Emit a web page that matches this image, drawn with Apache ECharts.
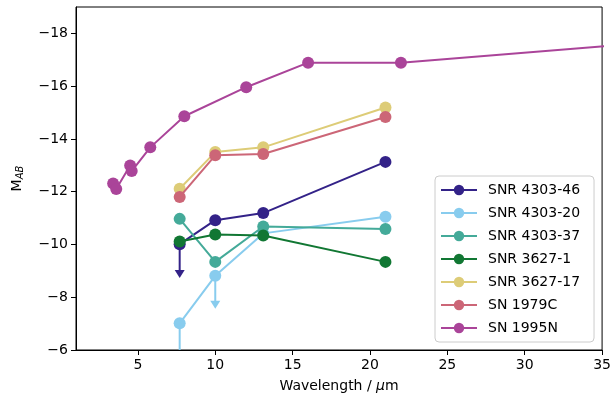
<!DOCTYPE html>
<html><head><meta charset="utf-8">
<script src="https://cdn.jsdelivr.net/npm/echarts@6/dist/echarts.min.js"></script>
<style>html,body{margin:0;padding:0;background:#fff}#c{width:614px;height:398px}</style>
</head><body><div id="c"></div>
<script>
const seriesNames = ['SNR 4303-46','SNR 4303-20','SNR 4303-37','SNR 3627-1','SNR 3627-17','SN 1979C','SN 1995N'];
const colors = ['#332288','#88CCEE','#44AA99','#117733','#DDCC77','#CC6677','#AA4499'];
const jwstWave = [7.7, 10.0, 13.1, 21.0];
const snr4303_46 = [-10.01, -10.92, -11.19, -13.13];
const snr4303_20 = [-7.01, -8.81, -10.42, -11.05];
const snr4303_37 = [-10.97, -9.34, -10.68, -10.59];
const snr3627_1 = [-10.11, -10.38, -10.34, -9.34];
const snr3627_17 = [-12.11, -13.50, -13.68, -15.19];
const sn1979C = [-11.80, -13.38, -13.43, -14.83];
const sn1995N_wave = [3.4, 3.6, 4.5, 4.6, 5.8, 8.0, 12.0, 16.0, 22.0, 70.0];
const sn1995N = [-12.31, -12.10, -12.99, -12.78, -13.68, -14.86, -15.96, -16.89, -16.89, -19.18];
// upper limits (error bars with arrows)
const limitSeries = [0, 1, 1];
const limitWave = [7.7, 10.0, 7.7];
const limitFrom = [-10.01, -8.81, -7.01];
const limitTo = [-8.73, -7.56, -5.0];
const xTicks = [5, 10, 15, 20, 25, 30, 35];
const yTicks = [-18, -16, -14, -12, -10, -8, -6];

const ys = [snr4303_46, snr4303_20, snr4303_37, snr3627_1, snr3627_17, sn1979C];
const font = 'DejaVu Sans';
const chart = echarts.init(document.getElementById('c'), null, {renderer: 'canvas'});

const lineSeries = seriesNames.map((n, i) => {
  const xs = i === 6 ? sn1995N_wave : jwstWave;
  const vs = i === 6 ? sn1995N : ys[i];
  return {
    name: n, type: 'line', data: xs.map((x, k) => [x, vs[k]]),
    symbol: 'circle', symbolSize: 12, showSymbol: true,
    lineStyle: {width: 2, color: colors[i]}, itemStyle: {color: colors[i]},
    z: 10 + i, clip: true, animation: false
  };
});

const limitCustom = {
  type: 'custom', name: 'limits', clip: true, z: 5, animation: false,
  data: limitWave.map((x, k) => [x, limitFrom[k], limitTo[k], limitSeries[k]]),
  renderItem: (params, api) => {
    const p1 = api.coord([api.value(0), api.value(1)]);
    const p2 = api.coord([api.value(0), api.value(2)]);
    const c = colors[api.value(3)];
    return {type: 'group', children: [
      {type: 'line', shape: {x1: p1[0], y1: p1[1], x2: p2[0], y2: p2[1] - 4}, style: {stroke: c, lineWidth: 2}},
      {type: 'polygon', shape: {points: [[p2[0] - 5, p2[1] - 8], [p2[0] + 5, p2[1] - 8], [p2[0], p2[1]]]}, style: {fill: c}}
    ]};
  }
};

chart.setOption({
  backgroundColor: '#fff',
  animation: false,
  textStyle: {fontFamily: font},
  grid: {left: 76, right: 11, top: 7, bottom: 48, show: true, borderColor: '#000', borderWidth: 1, backgroundColor: 'transparent'},
  legend: {
    data: seriesNames, orient: 'vertical', left: 435, top: 176,
    itemWidth: 36, itemHeight: 13, itemGap: 9,
    backgroundColor: '#fff', borderColor: '#cccccc', borderWidth: 1, borderRadius: 4,
    padding: [7, 14, 7, 5],
    textStyle: {fontFamily: font, fontSize: 14, color: '#000', padding: [0, 0, 0, 6]}
  },
  xAxis: {
    type: 'value', min: 1, max: 35,
    name: 'Wavelength / {i|μ}m', nameLocation: 'middle', nameGap: 29,
    nameTextStyle: {fontFamily: font, fontSize: 14, color: '#000', rich: {i: {fontFamily: font, fontSize: 14, fontStyle: 'italic', color: '#000'}}},
    axisLine: {show: true, lineStyle: {color: '#000', width: 1}},
    axisTick: {show: true, inside: false, length: 5, customValues: xTicks, lineStyle: {color: '#000'}},
    axisLabel: {customValues: xTicks, fontFamily: font, fontSize: 14, color: '#000', margin: 8},
    splitLine: {show: false}
  },
  yAxis: {
    type: 'value', min: -19, max: -6, inverse: true,
    name: '{m|M}{s|AB}', nameLocation: 'middle', nameGap: 51,
    nameTextStyle: {fontFamily: font, fontSize: 14, color: '#000',
      rich: {m: {fontFamily: font, fontSize: 14, color: '#000'}, s: {fontFamily: font, fontSize: 10, fontStyle: 'italic', color: '#000', verticalAlign: 'bottom', padding: [6, 0, 0, 0]}}},
    axisLine: {show: true, lineStyle: {color: '#000', width: 1}},
    axisTick: {show: true, inside: false, length: 5, customValues: yTicks, lineStyle: {color: '#000'}},
    axisLabel: {customValues: yTicks, fontFamily: font, fontSize: 14, color: '#000', margin: 8,
      formatter: v => (v < 0 ? '\u2212' : '') + Math.abs(v)},
    splitLine: {show: false}
  },
  series: [limitCustom, ...lineSeries]
});
</script>
</body></html>
